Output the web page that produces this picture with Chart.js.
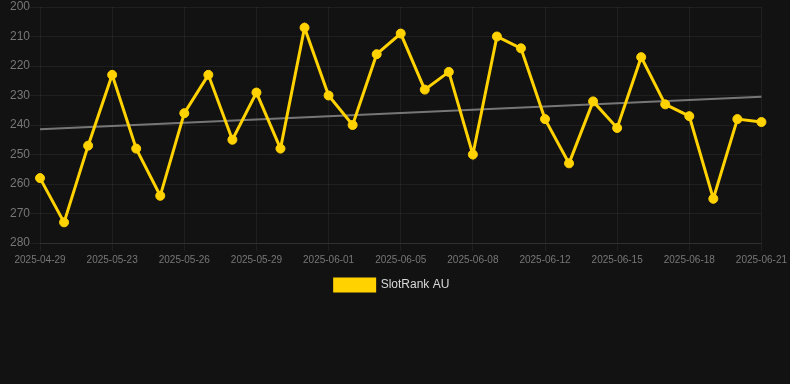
<!DOCTYPE html>
<html>
<head>
<meta charset="utf-8">
<script src="https://cdn.jsdelivr.net/npm/chart.js@4"></script>
<style>
html,body{margin:0;padding:0;background:#121212}
#wrap{width:790px;height:384px}
</style>
</head>
<body>
<div id="wrap"><canvas id="RankChart"></canvas></div>
<script>
// dates (x categories)
const DAYS=["2025-04-29","2025-05-21","2025-05-22","2025-05-23","2025-05-24","2025-05-25","2025-05-26","2025-05-27","2025-05-28","2025-05-29","2025-05-30","2025-05-31","2025-06-01","2025-06-02","2025-06-04","2025-06-05","2025-06-06","2025-06-07","2025-06-08","2025-06-09","2025-06-10","2025-06-12","2025-06-13","2025-06-14","2025-06-15","2025-06-16","2025-06-17","2025-06-18","2025-06-19","2025-06-20","2025-06-21"]

// rank values
const RANK=[258,273,247,223,248,264,236,223,245,229,248,207,230,240,216,209,228,222,250,210,214,238,253,232,241,217,233,237,265,238,239]

// trend endpoints
const TREND_START=241.4
const TREND_END=230.4

const Y_MIN=200
const Y_MAX=280

let RankChart

function LoadRank(){
 Chart.defaults.font.family='Arial, "Liberation Sans", sans-serif';
 RankChart=new Chart(
  document.getElementById('RankChart'),
  {
   type:'line',
   data:{
    labels:DAYS,
    datasets:[
     {
      label:'SlotRank AU',
      data:RANK,
      borderColor:'#FFD200',
      backgroundColor:'#FFD200',
      borderWidth:3,
      pointRadius:4.5,
      pointBorderWidth:1,
      pointHoverRadius:6,
      tension:0
     },
     {
      label:'trend',
      data:[{x:DAYS[0],y:TREND_START},{x:DAYS[DAYS.length-1],y:TREND_END}],
      borderColor:'rgba(130,130,130,0.9)',
      borderWidth:2,
      pointRadius:0,
      fill:false
     }
    ]
   },
   options:{
    responsive:true,
    maintainAspectRatio:false,
    animation:false,
    layout:{padding:{left:10,right:16,top:0,bottom:83}},
    scales:{
     x:{
      grid:{color:'rgba(255,255,255,0.06)'},
      border:{color:'rgba(255,255,255,0.08)'},
      ticks:{color:'#777777',font:{size:10},maxRotation:0,autoSkip:true,maxTicksLimit:11}
     },
     y:{
      reverse:true,
      min:Y_MIN,
      max:Y_MAX,
      grid:{color:'rgba(255,255,255,0.06)',tickLength:10},
      border:{display:false},
      ticks:{color:'#777777',font:{size:12,lineHeight:1},padding:0,stepSize:10}
     }
    },
    plugins:{
     legend:{
      display:true,
      position:'bottom',
      labels:{color:'#d8d8d8',font:{size:12},boxWidth:40,boxHeight:12,filter:i=>i.text!=='trend'}
     },
     tooltip:{enabled:true}
    }
   }
  }
 );
}

LoadRank()
</script>
</body>
</html>
